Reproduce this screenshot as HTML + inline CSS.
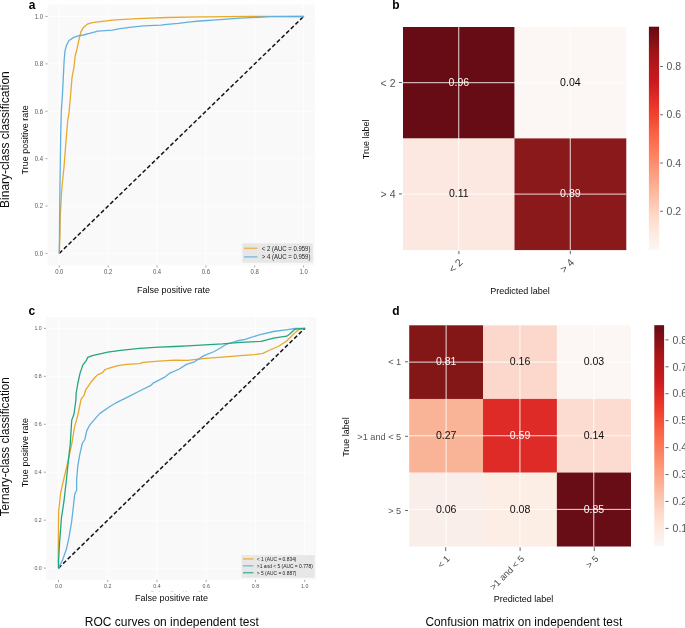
<!DOCTYPE html>
<html><head><meta charset="utf-8"><style>
html,body{margin:0;padding:0;background:#fff;width:685px;height:628px;overflow:hidden;}
svg{display:block;font-family:"Liberation Sans", sans-serif;will-change:transform;}
</style></head><body>
<svg width="685" height="628" viewBox="0 0 685 628" font-family='"Liberation Sans", sans-serif'>
<rect width="685" height="628" fill="#FFFFFF"/>
<rect x="47.6" y="4.5" width="267.40" height="260.80" fill="#F9F9F9"/>
<line x1="59.30" y1="4.50" x2="59.30" y2="265.30" stroke="#FFFFFF" stroke-width="0.8"/>
<line x1="47.60" y1="253.40" x2="315.00" y2="253.40" stroke="#FFFFFF" stroke-width="0.8"/>
<line x1="108.16" y1="4.50" x2="108.16" y2="265.30" stroke="#FFFFFF" stroke-width="0.8"/>
<line x1="47.60" y1="206.02" x2="315.00" y2="206.02" stroke="#FFFFFF" stroke-width="0.8"/>
<line x1="157.02" y1="4.50" x2="157.02" y2="265.30" stroke="#FFFFFF" stroke-width="0.8"/>
<line x1="47.60" y1="158.64" x2="315.00" y2="158.64" stroke="#FFFFFF" stroke-width="0.8"/>
<line x1="205.88" y1="4.50" x2="205.88" y2="265.30" stroke="#FFFFFF" stroke-width="0.8"/>
<line x1="47.60" y1="111.26" x2="315.00" y2="111.26" stroke="#FFFFFF" stroke-width="0.8"/>
<line x1="254.74" y1="4.50" x2="254.74" y2="265.30" stroke="#FFFFFF" stroke-width="0.8"/>
<line x1="47.60" y1="63.88" x2="315.00" y2="63.88" stroke="#FFFFFF" stroke-width="0.8"/>
<line x1="303.60" y1="4.50" x2="303.60" y2="265.30" stroke="#FFFFFF" stroke-width="0.8"/>
<line x1="47.60" y1="16.50" x2="315.00" y2="16.50" stroke="#FFFFFF" stroke-width="0.8"/>
<line x1="45.40" y1="253.40" x2="47.60" y2="253.40" stroke="#8A8A8A" stroke-width="0.7"/>
<line x1="59.30" y1="265.30" x2="59.30" y2="267.50" stroke="#8A8A8A" stroke-width="0.7"/>
<text transform="translate(43.00,255.74) scale(0.9,1.0)" font-size="6.6" text-anchor="end" fill="#595959">0.0</text>
<text transform="translate(59.30,274.30) scale(0.9,1.0)" font-size="6.6" text-anchor="middle" fill="#595959">0.0</text>
<line x1="45.40" y1="206.02" x2="47.60" y2="206.02" stroke="#8A8A8A" stroke-width="0.7"/>
<line x1="108.16" y1="265.30" x2="108.16" y2="267.50" stroke="#8A8A8A" stroke-width="0.7"/>
<text transform="translate(43.00,208.36) scale(0.9,1.0)" font-size="6.6" text-anchor="end" fill="#595959">0.2</text>
<text transform="translate(108.16,274.30) scale(0.9,1.0)" font-size="6.6" text-anchor="middle" fill="#595959">0.2</text>
<line x1="45.40" y1="158.64" x2="47.60" y2="158.64" stroke="#8A8A8A" stroke-width="0.7"/>
<line x1="157.02" y1="265.30" x2="157.02" y2="267.50" stroke="#8A8A8A" stroke-width="0.7"/>
<text transform="translate(43.00,160.98) scale(0.9,1.0)" font-size="6.6" text-anchor="end" fill="#595959">0.4</text>
<text transform="translate(157.02,274.30) scale(0.9,1.0)" font-size="6.6" text-anchor="middle" fill="#595959">0.4</text>
<line x1="45.40" y1="111.26" x2="47.60" y2="111.26" stroke="#8A8A8A" stroke-width="0.7"/>
<line x1="205.88" y1="265.30" x2="205.88" y2="267.50" stroke="#8A8A8A" stroke-width="0.7"/>
<text transform="translate(43.00,113.60) scale(0.9,1.0)" font-size="6.6" text-anchor="end" fill="#595959">0.6</text>
<text transform="translate(205.88,274.30) scale(0.9,1.0)" font-size="6.6" text-anchor="middle" fill="#595959">0.6</text>
<line x1="45.40" y1="63.88" x2="47.60" y2="63.88" stroke="#8A8A8A" stroke-width="0.7"/>
<line x1="254.74" y1="265.30" x2="254.74" y2="267.50" stroke="#8A8A8A" stroke-width="0.7"/>
<text transform="translate(43.00,66.22) scale(0.9,1.0)" font-size="6.6" text-anchor="end" fill="#595959">0.8</text>
<text transform="translate(254.74,274.30) scale(0.9,1.0)" font-size="6.6" text-anchor="middle" fill="#595959">0.8</text>
<line x1="45.40" y1="16.50" x2="47.60" y2="16.50" stroke="#8A8A8A" stroke-width="0.7"/>
<line x1="303.60" y1="265.30" x2="303.60" y2="267.50" stroke="#8A8A8A" stroke-width="0.7"/>
<text transform="translate(43.00,18.84) scale(0.9,1.0)" font-size="6.6" text-anchor="end" fill="#595959">1.0</text>
<text transform="translate(303.60,274.30) scale(0.9,1.0)" font-size="6.6" text-anchor="middle" fill="#595959">1.0</text>
<line x1="59.30" y1="253.40" x2="303.60" y2="16.50" stroke="#151515" stroke-width="1.5" stroke-dasharray="4.1 2.35"/>
<polyline points="59.30,253.40 59.90,236.60 60.30,215.10 61.30,196.50 62.00,186.50 64.20,165.00 65.80,143.50 67.70,120.60 69.00,112.90 70.70,94.00 72.00,77.70 73.90,67.50 75.20,56.00 77.10,48.40 79.00,39.50 80.90,31.80 83.50,27.40 87.30,24.20 92.40,22.70 98.00,21.90 112.50,20.20 120.00,19.60 143.40,18.40 166.70,17.50 200.00,16.90 205.00,16.80 250.00,16.40 303.60,16.50" fill="none" stroke="#E8A82A" stroke-width="1.3" stroke-linejoin="round" stroke-linecap="round"/>
<polyline points="59.30,253.40 59.50,230.00 59.90,190.00 60.20,170.00 60.70,134.60 61.40,109.10 62.50,94.00 63.40,75.10 64.10,61.10 65.00,50.90 66.30,45.80 68.80,40.80 73.30,37.60 79.00,35.70 83.50,35.00 88.60,33.70 98.00,31.20 112.50,30.10 120.00,28.60 131.70,27.10 143.40,25.90 160.90,25.10 166.70,24.30 178.40,23.30 190.10,21.90 200.00,21.00 216.70,19.90 240.00,18.20 270.70,16.70 303.60,16.50" fill="none" stroke="#62B0DD" stroke-width="1.3" stroke-linejoin="round" stroke-linecap="round"/>
<rect x="242.4" y="243.4" width="70.50" height="19.40" fill="#E5E5E5" fill-opacity="0.93"/>
<line x1="243.90" y1="248.30" x2="257.40" y2="248.30" stroke="#E8A82A" stroke-width="1.5" stroke-opacity="0.75"/>
<text transform="translate(261.80,250.78) scale(0.87,1.0)" font-size="6.9" fill="#222222">&lt; 2 (AUC = 0.959)</text>
<line x1="243.90" y1="256.90" x2="257.40" y2="256.90" stroke="#62B0DD" stroke-width="1.5" stroke-opacity="0.75"/>
<text transform="translate(261.80,259.38) scale(0.87,1.0)" font-size="6.9" fill="#222222">&gt; 4 (AUC = 0.959)</text>
<text transform="translate(28.80,8.60) scale(0.92,1.0)" font-size="13" fill="#000" font-weight="bold">a</text>
<text transform="translate(173.60,293.40)" font-size="9" text-anchor="middle" fill="#0A0A0A">False positive rate</text>
<text transform="translate(28.30,139.80) rotate(-90)" font-size="9" text-anchor="middle" fill="#0A0A0A">True positive rate</text>
<text transform="translate(9.30,139.60) rotate(-90)" font-size="12" text-anchor="middle" fill="#0A0A0A">Binary-class classification</text>
<rect x="46.0" y="316.9" width="270.30" height="262.90" fill="#F9F9F9"/>
<line x1="58.50" y1="316.90" x2="58.50" y2="579.80" stroke="#FFFFFF" stroke-width="0.8"/>
<line x1="46.00" y1="568.10" x2="316.30" y2="568.10" stroke="#FFFFFF" stroke-width="0.8"/>
<line x1="107.74" y1="316.90" x2="107.74" y2="579.80" stroke="#FFFFFF" stroke-width="0.8"/>
<line x1="46.00" y1="520.16" x2="316.30" y2="520.16" stroke="#FFFFFF" stroke-width="0.8"/>
<line x1="156.98" y1="316.90" x2="156.98" y2="579.80" stroke="#FFFFFF" stroke-width="0.8"/>
<line x1="46.00" y1="472.22" x2="316.30" y2="472.22" stroke="#FFFFFF" stroke-width="0.8"/>
<line x1="206.22" y1="316.90" x2="206.22" y2="579.80" stroke="#FFFFFF" stroke-width="0.8"/>
<line x1="46.00" y1="424.28" x2="316.30" y2="424.28" stroke="#FFFFFF" stroke-width="0.8"/>
<line x1="255.46" y1="316.90" x2="255.46" y2="579.80" stroke="#FFFFFF" stroke-width="0.8"/>
<line x1="46.00" y1="376.34" x2="316.30" y2="376.34" stroke="#FFFFFF" stroke-width="0.8"/>
<line x1="304.70" y1="316.90" x2="304.70" y2="579.80" stroke="#FFFFFF" stroke-width="0.8"/>
<line x1="46.00" y1="328.40" x2="316.30" y2="328.40" stroke="#FFFFFF" stroke-width="0.8"/>
<line x1="43.80" y1="568.10" x2="46.00" y2="568.10" stroke="#8A8A8A" stroke-width="0.7"/>
<line x1="58.50" y1="579.80" x2="58.50" y2="582.00" stroke="#8A8A8A" stroke-width="0.7"/>
<text transform="translate(41.70,570.16) scale(0.9,1.0)" font-size="5.8" text-anchor="end" fill="#595959">0.0</text>
<text transform="translate(58.50,587.80) scale(0.9,1.0)" font-size="5.8" text-anchor="middle" fill="#595959">0.0</text>
<line x1="43.80" y1="520.16" x2="46.00" y2="520.16" stroke="#8A8A8A" stroke-width="0.7"/>
<line x1="107.74" y1="579.80" x2="107.74" y2="582.00" stroke="#8A8A8A" stroke-width="0.7"/>
<text transform="translate(41.70,522.22) scale(0.9,1.0)" font-size="5.8" text-anchor="end" fill="#595959">0.2</text>
<text transform="translate(107.74,587.80) scale(0.9,1.0)" font-size="5.8" text-anchor="middle" fill="#595959">0.2</text>
<line x1="43.80" y1="472.22" x2="46.00" y2="472.22" stroke="#8A8A8A" stroke-width="0.7"/>
<line x1="156.98" y1="579.80" x2="156.98" y2="582.00" stroke="#8A8A8A" stroke-width="0.7"/>
<text transform="translate(41.70,474.28) scale(0.9,1.0)" font-size="5.8" text-anchor="end" fill="#595959">0.4</text>
<text transform="translate(156.98,587.80) scale(0.9,1.0)" font-size="5.8" text-anchor="middle" fill="#595959">0.4</text>
<line x1="43.80" y1="424.28" x2="46.00" y2="424.28" stroke="#8A8A8A" stroke-width="0.7"/>
<line x1="206.22" y1="579.80" x2="206.22" y2="582.00" stroke="#8A8A8A" stroke-width="0.7"/>
<text transform="translate(41.70,426.34) scale(0.9,1.0)" font-size="5.8" text-anchor="end" fill="#595959">0.6</text>
<text transform="translate(206.22,587.80) scale(0.9,1.0)" font-size="5.8" text-anchor="middle" fill="#595959">0.6</text>
<line x1="43.80" y1="376.34" x2="46.00" y2="376.34" stroke="#8A8A8A" stroke-width="0.7"/>
<line x1="255.46" y1="579.80" x2="255.46" y2="582.00" stroke="#8A8A8A" stroke-width="0.7"/>
<text transform="translate(41.70,378.40) scale(0.9,1.0)" font-size="5.8" text-anchor="end" fill="#595959">0.8</text>
<text transform="translate(255.46,587.80) scale(0.9,1.0)" font-size="5.8" text-anchor="middle" fill="#595959">0.8</text>
<line x1="43.80" y1="328.40" x2="46.00" y2="328.40" stroke="#8A8A8A" stroke-width="0.7"/>
<line x1="304.70" y1="579.80" x2="304.70" y2="582.00" stroke="#8A8A8A" stroke-width="0.7"/>
<text transform="translate(41.70,330.46) scale(0.9,1.0)" font-size="5.8" text-anchor="end" fill="#595959">1.0</text>
<text transform="translate(304.70,587.80) scale(0.9,1.0)" font-size="5.8" text-anchor="middle" fill="#595959">1.0</text>
<line x1="58.50" y1="568.10" x2="304.70" y2="328.40" stroke="#151515" stroke-width="1.5" stroke-dasharray="4.1 2.35"/>
<polyline points="58.50,568.10 58.20,560.00 58.60,511.80 60.70,492.70 63.60,480.00 68.90,457.30 72.10,442.00 74.60,426.80 77.80,415.30 78.90,410.00 81.10,399.10 83.90,395.70 85.60,390.20 91.20,381.80 95.60,376.80 97.90,374.60 102.30,372.90 105.10,369.50 110.00,367.90 117.90,365.60 126.80,364.30 139.60,363.70 143.40,362.40 158.70,361.10 175.00,360.20 187.50,360.30 205.00,358.30 222.60,357.10 240.00,355.60 254.50,354.70 263.00,353.30 269.70,350.00 278.20,346.50 286.70,341.00 291.50,336.20 295.30,332.40 299.10,329.60 304.70,328.40" fill="none" stroke="#E8A82A" stroke-width="1.3" stroke-linejoin="round" stroke-linecap="round"/>
<polyline points="58.50,568.10 62.60,560.00 66.50,548.80 69.00,537.30 71.60,522.00 73.50,505.50 74.70,494.00 76.70,490.20 76.60,480.00 77.80,466.20 79.70,454.80 82.30,443.30 84.80,439.50 86.80,430.60 89.90,424.80 96.90,416.60 100.00,413.40 110.30,406.30 115.40,403.20 128.10,396.80 139.60,391.00 151.00,385.30 153.60,382.80 163.80,377.70 170.00,373.10 179.30,369.00 186.40,364.40 194.50,361.80 203.90,355.60 214.40,351.50 226.10,344.50 236.60,341.00 245.00,339.30 259.20,334.80 273.50,331.50 287.70,329.60 295.30,328.50 304.70,328.40" fill="none" stroke="#62B0DD" stroke-width="1.3" stroke-linejoin="round" stroke-linecap="round"/>
<polyline points="58.50,568.10 58.60,560.00 59.50,543.70 61.40,518.20 63.90,501.70 66.40,480.00 68.30,461.10 70.20,444.60 71.70,420.40 74.00,414.00 75.90,400.00 76.10,393.50 77.80,383.50 80.00,373.40 82.80,365.10 86.20,360.60 87.80,357.30 92.30,355.60 101.20,353.60 107.70,352.20 120.50,350.30 139.60,348.40 158.70,347.10 175.00,346.50 187.50,345.90 205.00,344.80 222.60,343.90 234.20,342.80 245.00,342.10 261.10,341.40 273.50,338.10 286.70,336.20 289.60,334.30 292.40,331.50 295.30,329.10 304.70,328.40" fill="none" stroke="#22A67E" stroke-width="1.3" stroke-linejoin="round" stroke-linecap="round"/>
<rect x="241.6" y="555.1" width="73.10" height="22.70" fill="#E5E5E5" fill-opacity="0.93"/>
<line x1="243.00" y1="558.90" x2="253.50" y2="558.90" stroke="#E8A82A" stroke-width="1.5" stroke-opacity="0.75"/>
<text transform="translate(256.80,560.92) scale(0.875,1.0)" font-size="5.6" fill="#222222">&lt; 1 (AUC = 0.834)</text>
<line x1="243.00" y1="565.80" x2="253.50" y2="565.80" stroke="#62B0DD" stroke-width="1.5" stroke-opacity="0.75"/>
<text transform="translate(256.80,567.82) scale(0.875,1.0)" font-size="5.6" fill="#222222">&gt;1 and &lt; 5 (AUC = 0.778)</text>
<line x1="243.00" y1="572.70" x2="253.50" y2="572.70" stroke="#22A67E" stroke-width="1.5" stroke-opacity="0.75"/>
<text transform="translate(256.80,574.72) scale(0.875,1.0)" font-size="5.6" fill="#222222">&gt; 5 (AUC = 0.887)</text>
<text transform="translate(28.50,315.00) scale(0.92,1.0)" font-size="13" fill="#000" font-weight="bold">c</text>
<text transform="translate(171.50,601.10)" font-size="9" text-anchor="middle" fill="#0A0A0A">False positive rate</text>
<line x1="151.00" y1="591.40" x2="154.00" y2="591.40" stroke="#D5D5D5" stroke-width="0.9"/>
<line x1="159.00" y1="591.40" x2="160.00" y2="591.40" stroke="#D5D5D5" stroke-width="0.9"/>
<line x1="170.40" y1="591.40" x2="173.30" y2="591.40" stroke="#D5D5D5" stroke-width="0.9"/>
<line x1="183.00" y1="591.40" x2="184.00" y2="591.40" stroke="#D5D5D5" stroke-width="0.9"/>
<line x1="185.50" y1="591.40" x2="187.00" y2="591.40" stroke="#D5D5D5" stroke-width="0.9"/>
<line x1="198.40" y1="591.40" x2="201.30" y2="591.40" stroke="#D5D5D5" stroke-width="0.9"/>
<text transform="translate(27.80,452.70) rotate(-90)" font-size="9" text-anchor="middle" fill="#0A0A0A">True positive rate</text>
<text transform="translate(9.10,446.80) rotate(-90) scale(0.975,1.0)" font-size="12" text-anchor="middle" fill="#0A0A0A">Ternary-class classification</text>
<text transform="translate(171.80,625.80)" font-size="12" text-anchor="middle" fill="#0A0A0A">ROC curves on independent test</text>
<rect x="403.00" y="27.00" width="111.80" height="111.70" fill="#670C15"/>
<rect x="514.50" y="27.00" width="111.80" height="111.70" fill="#FCF7F4"/>
<rect x="403.00" y="138.40" width="111.80" height="111.70" fill="#FCE8E0"/>
<rect x="514.50" y="138.40" width="111.80" height="111.70" fill="#8A191C"/>
<line x1="458.75" y1="27.00" x2="458.75" y2="249.80" stroke="#FFFFFF" stroke-width="1.0" stroke-opacity="0.85"/>
<line x1="403.00" y1="82.70" x2="626.00" y2="82.70" stroke="#FFFFFF" stroke-width="1.0" stroke-opacity="0.85"/>
<line x1="570.25" y1="27.00" x2="570.25" y2="249.80" stroke="#FFFFFF" stroke-width="1.0" stroke-opacity="0.85"/>
<line x1="403.00" y1="194.10" x2="626.00" y2="194.10" stroke="#FFFFFF" stroke-width="1.0" stroke-opacity="0.85"/>
<text transform="translate(458.85,86.01) scale(0.96,1.0)" font-size="11" text-anchor="middle" fill="#FAFAFA">0.96</text>
<text transform="translate(570.35,86.01) scale(0.96,1.0)" font-size="11" text-anchor="middle" fill="#0D0D0D">0.04</text>
<text transform="translate(458.85,197.41) scale(0.96,1.0)" font-size="11" text-anchor="middle" fill="#0D0D0D">0.11</text>
<text transform="translate(570.35,197.41) scale(0.96,1.0)" font-size="11" text-anchor="middle" fill="#FAFAFA">0.89</text>
<defs><linearGradient id="gb" x1="0" y1="1" x2="0" y2="0"><stop offset="0.000" stop-color="#fdf6f2"/><stop offset="0.050" stop-color="#fdeee7"/><stop offset="0.100" stop-color="#fee5d8"/><stop offset="0.150" stop-color="#fed9c9"/><stop offset="0.200" stop-color="#fdcab5"/><stop offset="0.250" stop-color="#fcbba1"/><stop offset="0.300" stop-color="#fcab8f"/><stop offset="0.350" stop-color="#fc9b7c"/><stop offset="0.400" stop-color="#fc8a6a"/><stop offset="0.450" stop-color="#fb7a5a"/><stop offset="0.500" stop-color="#fb694a"/><stop offset="0.550" stop-color="#f6583e"/><stop offset="0.600" stop-color="#f14432"/><stop offset="0.650" stop-color="#e83429"/><stop offset="0.700" stop-color="#d92724"/><stop offset="0.750" stop-color="#ca1b1f"/><stop offset="0.800" stop-color="#bc191c"/><stop offset="0.850" stop-color="#ac1619"/><stop offset="0.900" stop-color="#981317"/><stop offset="0.950" stop-color="#7e0e15"/><stop offset="1.000" stop-color="#670a12"/></linearGradient></defs>
<rect x="648.9" y="26.7" width="10.20" height="223.10" fill="url(#gb)"/>
<line x1="660.20" y1="211.30" x2="662.90" y2="211.30" stroke="#555" stroke-width="0.9"/>
<text transform="translate(666.60,215.03)" font-size="10.5" fill="#555">0.2</text>
<line x1="660.20" y1="163.03" x2="662.90" y2="163.03" stroke="#555" stroke-width="0.9"/>
<text transform="translate(666.60,166.76)" font-size="10.5" fill="#555">0.4</text>
<line x1="660.20" y1="114.76" x2="662.90" y2="114.76" stroke="#555" stroke-width="0.9"/>
<text transform="translate(666.60,118.49)" font-size="10.5" fill="#555">0.6</text>
<line x1="660.20" y1="66.49" x2="662.90" y2="66.49" stroke="#555" stroke-width="0.9"/>
<text transform="translate(666.60,70.22)" font-size="10.5" fill="#555">0.8</text>
<text transform="translate(392.30,8.70) scale(0.92,1.0)" font-size="13" fill="#000" font-weight="bold">b</text>
<text transform="translate(395.50,87.00)" font-size="10.5" text-anchor="end" fill="#555">&lt; 2</text>
<line x1="398.90" y1="82.50" x2="402.00" y2="82.50" stroke="#555" stroke-width="0.9"/>
<text transform="translate(395.50,198.40)" font-size="10.5" text-anchor="end" fill="#555">&gt; 4</text>
<line x1="398.90" y1="193.90" x2="402.00" y2="193.90" stroke="#555" stroke-width="0.9"/>
<line x1="458.90" y1="250.90" x2="458.90" y2="254.20" stroke="#555" stroke-width="0.9"/>
<text transform="translate(463.50,263.00) rotate(-45)" font-size="10.5" text-anchor="end" fill="#4A4A4A">&lt; 2</text>
<line x1="570.30" y1="250.90" x2="570.30" y2="254.20" stroke="#555" stroke-width="0.9"/>
<text transform="translate(574.90,263.00) rotate(-45)" font-size="10.5" text-anchor="end" fill="#4A4A4A">&gt; 4</text>
<text transform="translate(519.90,293.60)" font-size="9" text-anchor="middle" fill="#0A0A0A">Predicted label</text>
<text transform="translate(368.50,139.30) rotate(-90)" font-size="9" text-anchor="middle" fill="#0A0A0A">True label</text>
<rect x="409.20" y="325.30" width="74.13" height="73.93" fill="#831717"/>
<rect x="483.03" y="325.30" width="74.13" height="73.93" fill="#FCD7CB"/>
<rect x="556.87" y="325.30" width="74.13" height="73.93" fill="#FCF7F4"/>
<rect x="409.20" y="398.93" width="74.13" height="73.93" fill="#F9B396"/>
<rect x="483.03" y="398.93" width="74.13" height="73.93" fill="#DE2B27"/>
<rect x="556.87" y="398.93" width="74.13" height="73.93" fill="#FCDCD0"/>
<rect x="409.20" y="472.57" width="74.13" height="73.93" fill="#FAEEEA"/>
<rect x="483.03" y="472.57" width="74.13" height="73.93" fill="#FCEDE5"/>
<rect x="556.87" y="472.57" width="74.13" height="73.93" fill="#680C15"/>
<line x1="446.12" y1="325.30" x2="446.12" y2="546.20" stroke="#FFFFFF" stroke-width="1.0" stroke-opacity="0.85"/>
<line x1="409.20" y1="362.12" x2="630.70" y2="362.12" stroke="#FFFFFF" stroke-width="1.0" stroke-opacity="0.85"/>
<line x1="519.95" y1="325.30" x2="519.95" y2="546.20" stroke="#FFFFFF" stroke-width="1.0" stroke-opacity="0.85"/>
<line x1="409.20" y1="435.75" x2="630.70" y2="435.75" stroke="#FFFFFF" stroke-width="1.0" stroke-opacity="0.85"/>
<line x1="593.78" y1="325.30" x2="593.78" y2="546.20" stroke="#FFFFFF" stroke-width="1.0" stroke-opacity="0.85"/>
<line x1="409.20" y1="509.38" x2="630.70" y2="509.38" stroke="#FFFFFF" stroke-width="1.0" stroke-opacity="0.85"/>
<text transform="translate(446.22,365.42) scale(0.96,1.0)" font-size="11" text-anchor="middle" fill="#FAFAFA">0.81</text>
<text transform="translate(520.05,365.42) scale(0.96,1.0)" font-size="11" text-anchor="middle" fill="#0D0D0D">0.16</text>
<text transform="translate(593.88,365.42) scale(0.96,1.0)" font-size="11" text-anchor="middle" fill="#0D0D0D">0.03</text>
<text transform="translate(446.22,439.05) scale(0.96,1.0)" font-size="11" text-anchor="middle" fill="#0D0D0D">0.27</text>
<text transform="translate(520.05,439.05) scale(0.96,1.0)" font-size="11" text-anchor="middle" fill="#FAFAFA">0.59</text>
<text transform="translate(593.88,439.05) scale(0.96,1.0)" font-size="11" text-anchor="middle" fill="#0D0D0D">0.14</text>
<text transform="translate(446.22,512.69) scale(0.96,1.0)" font-size="11" text-anchor="middle" fill="#0D0D0D">0.06</text>
<text transform="translate(520.05,512.69) scale(0.96,1.0)" font-size="11" text-anchor="middle" fill="#0D0D0D">0.08</text>
<text transform="translate(593.88,512.69) scale(0.96,1.0)" font-size="11" text-anchor="middle" fill="#FAFAFA">0.85</text>
<defs><linearGradient id="gd" x1="0" y1="1" x2="0" y2="0"><stop offset="0.000" stop-color="#fdf6f2"/><stop offset="0.050" stop-color="#fdeee7"/><stop offset="0.100" stop-color="#fee5d8"/><stop offset="0.150" stop-color="#fed9c9"/><stop offset="0.200" stop-color="#fdcab5"/><stop offset="0.250" stop-color="#fcbba1"/><stop offset="0.300" stop-color="#fcab8f"/><stop offset="0.350" stop-color="#fc9b7c"/><stop offset="0.400" stop-color="#fc8a6a"/><stop offset="0.450" stop-color="#fb7a5a"/><stop offset="0.500" stop-color="#fb694a"/><stop offset="0.550" stop-color="#f6583e"/><stop offset="0.600" stop-color="#f14432"/><stop offset="0.650" stop-color="#e83429"/><stop offset="0.700" stop-color="#d92724"/><stop offset="0.750" stop-color="#ca1b1f"/><stop offset="0.800" stop-color="#bc191c"/><stop offset="0.850" stop-color="#ac1619"/><stop offset="0.900" stop-color="#981317"/><stop offset="0.950" stop-color="#7e0e15"/><stop offset="1.000" stop-color="#670a12"/></linearGradient></defs>
<rect x="654.3" y="325.2" width="9.80" height="221.00" fill="url(#gd)"/>
<line x1="665.40" y1="528.40" x2="668.60" y2="528.40" stroke="#555" stroke-width="0.9"/>
<text transform="translate(672.60,532.13)" font-size="10.5" fill="#555">0.1</text>
<line x1="665.40" y1="501.47" x2="668.60" y2="501.47" stroke="#555" stroke-width="0.9"/>
<text transform="translate(672.60,505.20)" font-size="10.5" fill="#555">0.2</text>
<line x1="665.40" y1="474.54" x2="668.60" y2="474.54" stroke="#555" stroke-width="0.9"/>
<text transform="translate(672.60,478.27)" font-size="10.5" fill="#555">0.3</text>
<line x1="665.40" y1="447.61" x2="668.60" y2="447.61" stroke="#555" stroke-width="0.9"/>
<text transform="translate(672.60,451.34)" font-size="10.5" fill="#555">0.4</text>
<line x1="665.40" y1="420.68" x2="668.60" y2="420.68" stroke="#555" stroke-width="0.9"/>
<text transform="translate(672.60,424.41)" font-size="10.5" fill="#555">0.5</text>
<line x1="665.40" y1="393.75" x2="668.60" y2="393.75" stroke="#555" stroke-width="0.9"/>
<text transform="translate(672.60,397.48)" font-size="10.5" fill="#555">0.6</text>
<line x1="665.40" y1="366.82" x2="668.60" y2="366.82" stroke="#555" stroke-width="0.9"/>
<text transform="translate(672.60,370.55)" font-size="10.5" fill="#555">0.7</text>
<line x1="665.40" y1="339.89" x2="668.60" y2="339.89" stroke="#555" stroke-width="0.9"/>
<text transform="translate(672.60,343.62)" font-size="10.5" fill="#555">0.8</text>
<text transform="translate(392.30,315.00) scale(0.92,1.0)" font-size="13" fill="#000" font-weight="bold">d</text>
<text transform="translate(401.20,365.40)" font-size="9.2" text-anchor="end" fill="#555">&lt; 1</text>
<line x1="405.00" y1="361.80" x2="408.00" y2="361.80" stroke="#555" stroke-width="0.9"/>
<text transform="translate(401.20,439.90)" font-size="9.2" text-anchor="end" fill="#555">&gt;1 and &lt; 5</text>
<line x1="405.00" y1="436.30" x2="408.00" y2="436.30" stroke="#555" stroke-width="0.9"/>
<text transform="translate(401.20,514.10)" font-size="9.2" text-anchor="end" fill="#555">&gt; 5</text>
<line x1="405.00" y1="510.50" x2="408.00" y2="510.50" stroke="#555" stroke-width="0.9"/>
<line x1="445.70" y1="547.30" x2="445.70" y2="551.00" stroke="#555" stroke-width="0.9"/>
<text transform="translate(450.40,559.50) rotate(-45)" font-size="9.2" text-anchor="end" fill="#4A4A4A">&lt; 1</text>
<line x1="520.10" y1="547.30" x2="520.10" y2="551.00" stroke="#555" stroke-width="0.9"/>
<text transform="translate(524.80,559.50) rotate(-45)" font-size="9.2" text-anchor="end" fill="#4A4A4A">&gt;1 and &lt; 5</text>
<line x1="594.30" y1="547.30" x2="594.30" y2="551.00" stroke="#555" stroke-width="0.9"/>
<text transform="translate(599.00,559.50) rotate(-45)" font-size="9.2" text-anchor="end" fill="#4A4A4A">&gt; 5</text>
<text transform="translate(523.60,602.20)" font-size="9" text-anchor="middle" fill="#0A0A0A">Predicted label</text>
<text transform="translate(348.70,437.00) rotate(-90)" font-size="9" text-anchor="middle" fill="#0A0A0A">True label</text>
<text transform="translate(523.80,625.80) scale(0.99,1.0)" font-size="12" text-anchor="middle" fill="#0A0A0A">Confusion matrix on independent test</text>
</svg>
</body></html>
